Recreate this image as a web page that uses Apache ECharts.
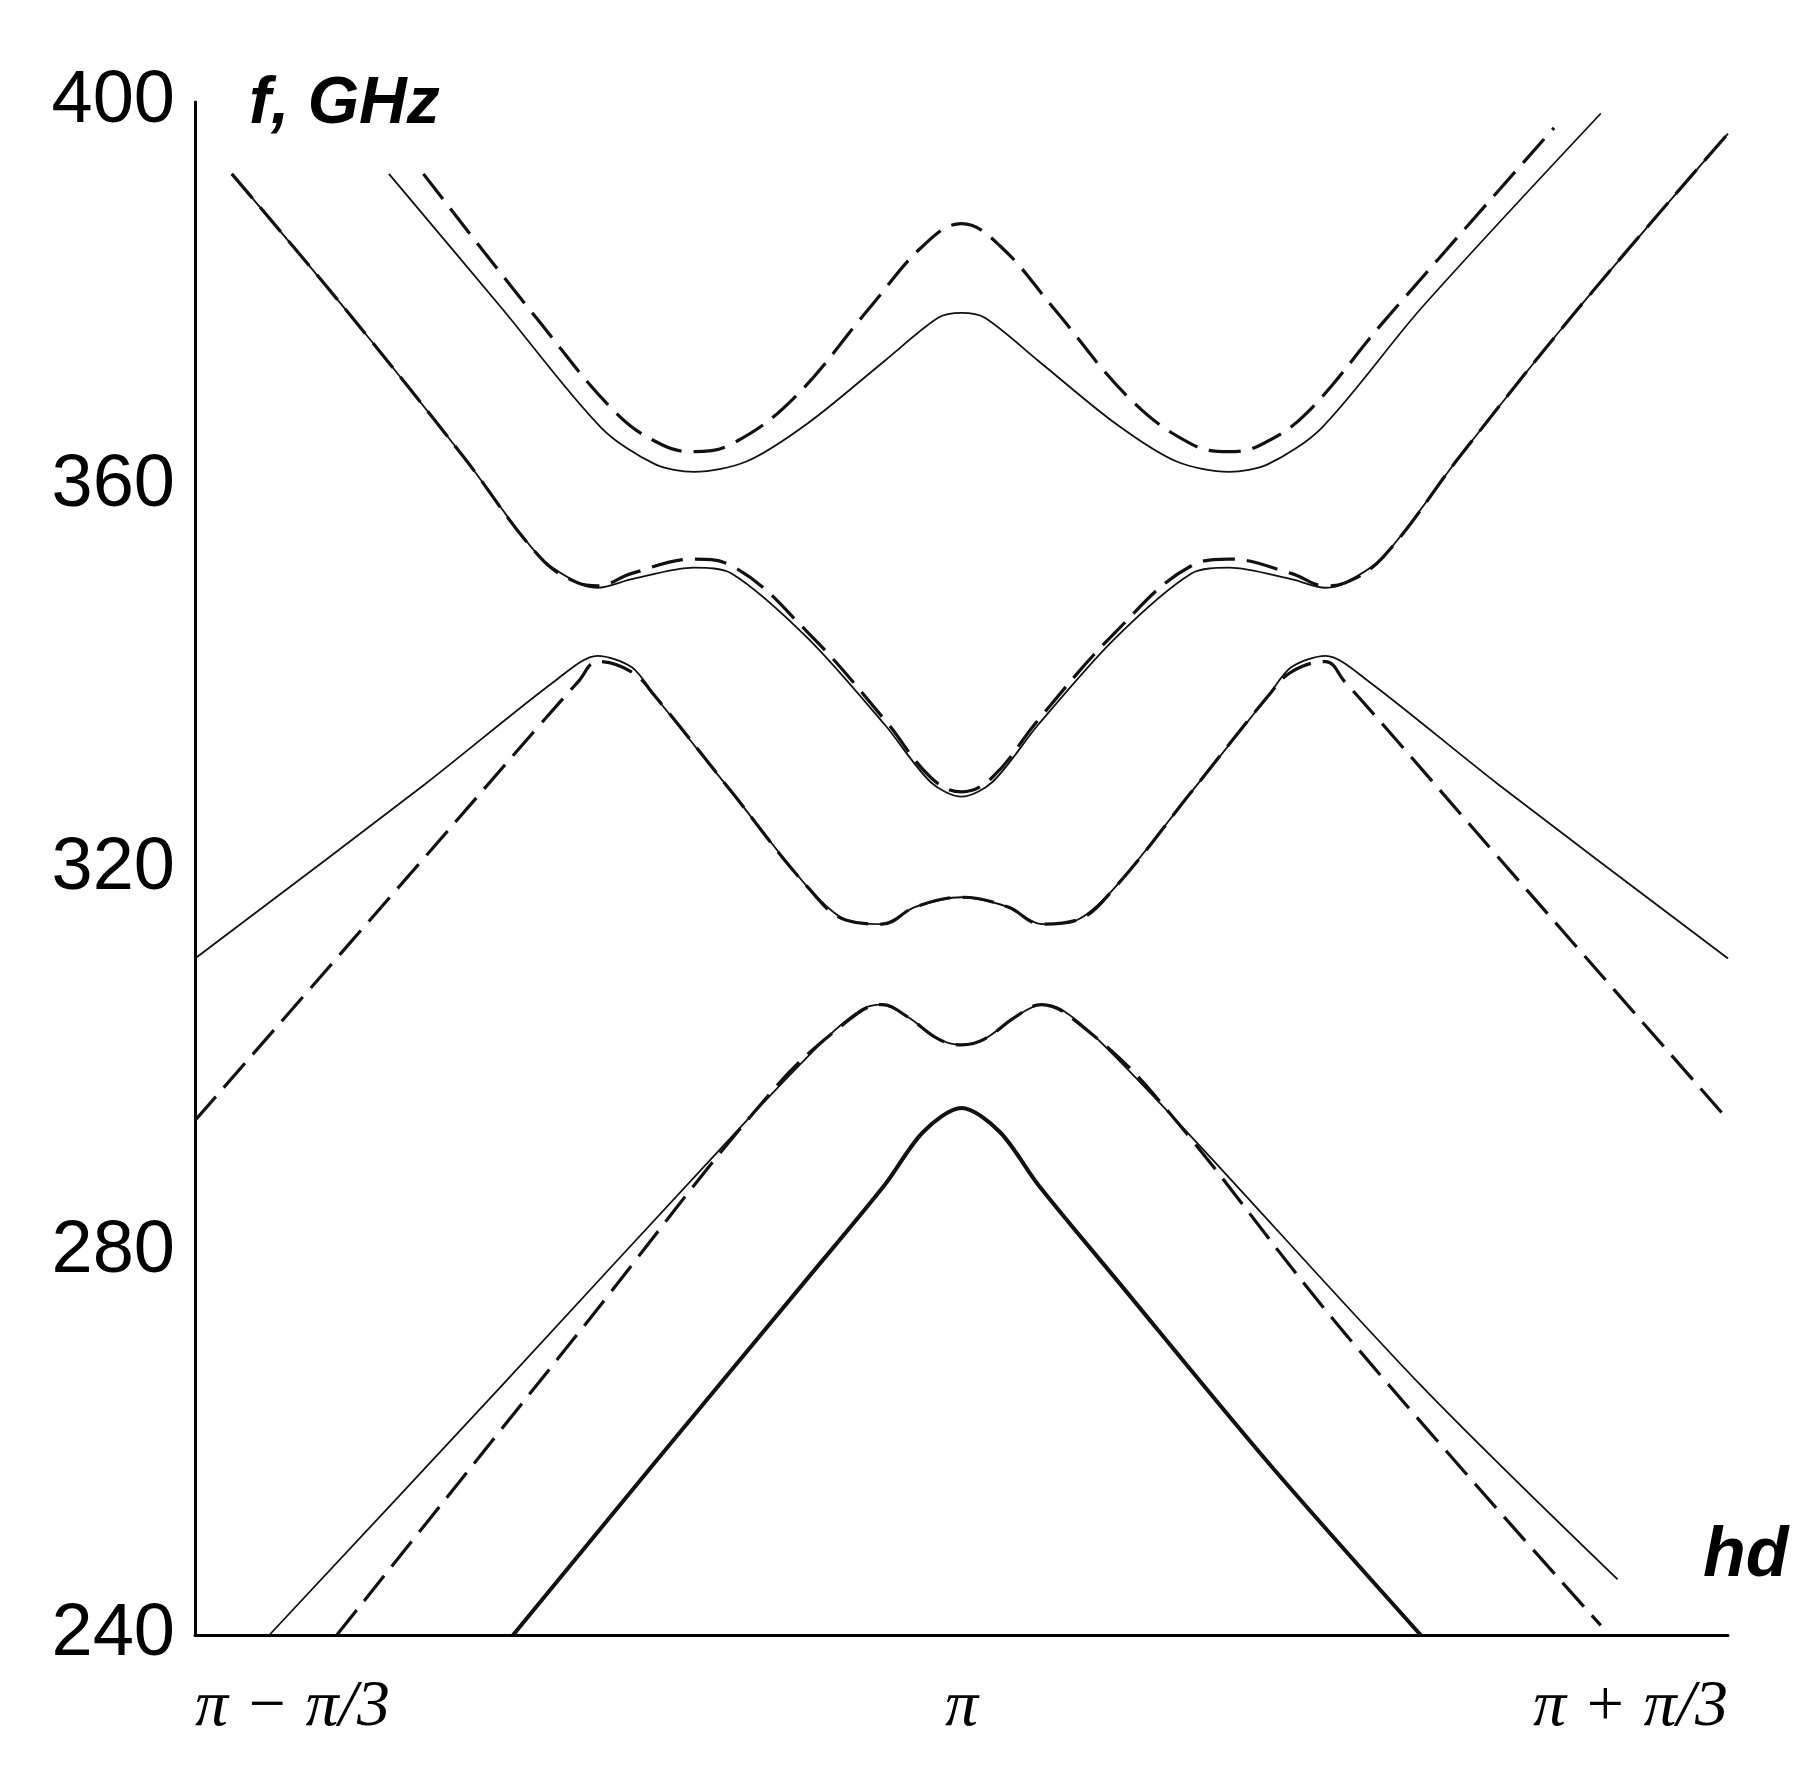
<!DOCTYPE html>
<html>
<head>
<meta charset="utf-8">
<script src="https://cdn.jsdelivr.net/npm/echarts@6/dist/echarts.min.js"></script>
<style>html,body{margin:0;background:#fff}#main{width:1815px;height:1791px}</style>
</head>
<body>
<div id="main"></div>
<script>
// x: -1 = π−π/3, 0 = π, 1 = π+π/3 ; y: f, GHz
var xTicks = {'-1': 'π − π/3', '0': 'π', '1': 'π + π/3'};
var yTicks = [240, 280, 320, 360, 400];

var band1Solid = [[-0.747,392.5],[-0.6,378.5],[-0.47,366],[-0.4,362.2],[-0.349,361.4],[-0.28,362.5],[-0.2,366.5],[-0.1,373],[-0.03,377.5],[0,378],
  [0.03,377.5],[0.1,373],[0.2,366.5],[0.28,362.5],[0.349,361.4],[0.4,362.2],[0.47,366],[0.6,378.5],[0.834,398.8]];
var band1Dash = [[-0.702,392.5],[-0.55,377],[-0.45,367.5],[-0.39,364.2],[-0.349,363.5],[-0.3,364.3],[-0.22,369],[-0.12,378.5],[-0.05,385],[0,387.3],
  [0.05,385],[0.12,378.5],[0.22,369],[0.3,364.3],[0.349,363.5],[0.39,364.2],[0.45,367.5],[0.55,377],[0.773,397.3]];
var band2Solid = [[-0.952,392.5],[-0.8,378],[-0.65,363],[-0.55,352.5],[-0.5,349.8],[-0.475,349.3],[-0.43,350.2],[-0.349,351.4],[-0.3,350.8],[-0.2,344],[-0.1,335],[-0.04,329],[0,327.5],
  [0.04,329],[0.1,335],[0.2,344],[0.3,350.8],[0.349,351.4],[0.43,350.2],[0.475,349.3],[0.5,349.8],[0.55,352.5],[0.65,363],[0.8,378],[1.0,396.7]];
var band2Dash = [[-0.952,392.5],[-0.8,378],[-0.65,363],[-0.55,352.5],[-0.5,349.8],[-0.475,349.5],[-0.43,350.8],[-0.349,352.3],[-0.3,351.6],[-0.2,344.6],[-0.1,335.5],[-0.04,329.5],[0,328],
  [0.04,329.5],[0.1,335.5],[0.2,344.6],[0.3,351.6],[0.349,352.3],[0.43,350.8],[0.475,349.5],[0.5,349.8],[0.55,352.5],[0.65,363],[0.8,378],[1.0,396.7]];
var band3Solid = [[-1,310.6],[-0.7,328.8],[-0.53,339.6],[-0.475,342.2],[-0.43,341],[-0.4,338],[-0.3,328],[-0.2,318],[-0.15,314.6],[-0.104,314.2],[-0.06,316],[0,317],
  [0.06,316],[0.104,314.2],[0.15,314.6],[0.2,318],[0.3,328],[0.4,338],[0.43,341],[0.475,342.2],[0.53,339.6],[0.7,328.8],[1,310.6]];
var band3Dash = [[-1,293.7],[-0.7,321.2],[-0.55,335],[-0.5,339.5],[-0.475,341.6],[-0.43,340.5],[-0.4,338],[-0.3,328],[-0.2,318],[-0.15,314.6],[-0.104,314.2],[-0.06,316],[0,317],
  [0.06,316],[0.104,314.2],[0.15,314.6],[0.2,318],[0.3,328],[0.4,338],[0.43,340.5],[0.475,341.6],[0.5,339.5],[0.55,335],[0.7,321.2],[0.992,294.5]];
var band4Solid = [[-0.903,240],[-0.6,266],[-0.3,292],[-0.18,302],[-0.13,305.3],[-0.104,305.8],[-0.07,304.5],[-0.03,302.2],[0,301.6],
  [0.03,302.2],[0.07,304.5],[0.104,305.8],[0.13,305.3],[0.18,302],[0.3,292],[0.6,266],[0.856,245.8]];
var band4Dash = [[-0.815,240],[-0.5,271.5],[-0.25,296.5],[-0.15,304],[-0.104,305.8],[-0.07,304.5],[-0.03,302.2],[0,301.6],
  [0.03,302.2],[0.07,304.5],[0.104,305.8],[0.15,304],[0.25,296.5],[0.5,271.5],[0.834,241]];
var band5 = [[-0.585,240],[-0.4,258],[-0.2,277.3],[-0.1,287],[-0.05,292.5],[0,295],[0.05,292.5],[0.1,287],[0.2,277.3],[0.4,258],[0.599,240]];

function solid(d, w) {
  return {type: 'line', data: d, smooth: 0.3, showSymbol: false, lineStyle: {color: '#111', width: w || 1.8}};
}
function dash(d) {
  return {type: 'line', data: d, smooth: 0.4, showSymbol: false, lineStyle: {color: '#111', width: 3.2, type: [32, 12]}};
}

var chart = echarts.init(document.getElementById('main'));
chart.setOption({
  animation: false,
  grid: {left: 195, right: 87, top: 102, bottom: 156},
  xAxis: {
    type: 'value', min: -1, max: 1, interval: 1,
    axisLine: {onZero: false, lineStyle: {color: '#000', width: 3}}, axisTick: {show: false}, splitLine: {show: false},
    axisLabel: {
      formatter: function (v) { return xTicks[String(v)] || ''; },
      fontFamily: 'Liberation Serif', fontStyle: 'italic', fontSize: 66, color: '#000', margin: 40,
      alignMinLabel: 'left', alignMaxLabel: 'right'
    }
  },
  yAxis: {
    type: 'value', min: yTicks[0], max: yTicks[yTicks.length - 1], interval: 40,
    axisLine: {show: true, onZero: false, lineStyle: {color: '#000', width: 3}}, axisTick: {show: false}, splitLine: {show: false},
    axisLabel: {fontFamily: 'Liberation Sans', fontSize: 74, color: '#000', margin: 20}
  },
  graphic: [
    {type: 'text', left: 249, top: 72, style: {text: 'f, GHz', font: 'italic bold 66px Liberation Sans', fill: '#000'}},
    {type: 'text', left: 1703, top: 1522, style: {text: 'hd', font: 'italic bold 70px Liberation Sans', fill: '#000'}}
  ],
  series: [
    solid(band1Solid), dash(band1Dash),
    solid(band2Solid), dash(band2Dash),
    solid(band3Solid), dash(band3Dash),
    solid(band4Solid), dash(band4Dash),
    solid(band5, 4)
  ]
});
</script>
</body>
</html>
